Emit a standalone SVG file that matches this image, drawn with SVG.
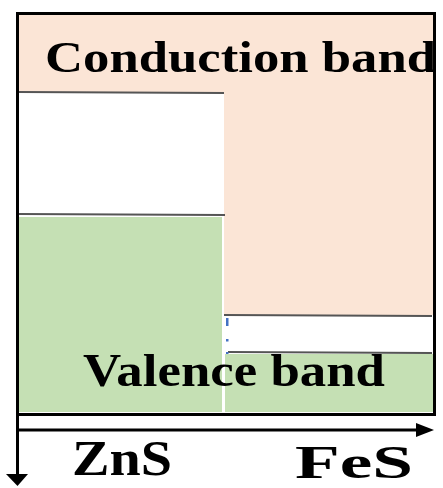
<svg xmlns="http://www.w3.org/2000/svg" width="443" height="488" viewBox="0 0 443 488">
<style>
.cb{fill:#fbe5d6}
.vb{fill:#c5e0b4}
.sep{stroke:#555;stroke-width:2;fill:none}
.lbl{font-family:"Liberation Serif","Times New Roman",serif;font-weight:bold;fill:#000}
.ax{stroke:#000;stroke-width:3;fill:none}
.mk{fill:#4472c4}
</style>
<rect x="0" y="0" width="443" height="488" fill="#fff"/>
<g id="conduction-band">
<rect class="cb" x="19" y="15" width="414" height="77"/>
<rect class="cb" x="224" y="15" width="209" height="300"/>
<text class="lbl" x="45" y="72" font-size="45" textLength="391" lengthAdjust="spacingAndGlyphs">Conduction band</text>
</g>
<g id="valence-band">
<rect class="vb" x="19" y="217" width="203" height="195"/>
<rect class="vb" x="225" y="354" width="208" height="58"/>
<text class="lbl" x="83" y="386" font-size="47" textLength="302" lengthAdjust="spacingAndGlyphs">Valence band</text>
</g>
<g id="separators">
<line class="sep" x1="19" y1="92" x2="224" y2="93"/>
<line class="sep" x1="19" y1="214" x2="225" y2="215"/>
<line class="sep" x1="224" y1="315" x2="432" y2="316"/>
<line class="sep" x1="228" y1="352" x2="432" y2="353"/>
<rect class="mk" x="226" y="318" width="2.5" height="8"/>
<rect class="mk" x="226" y="339" width="2.5" height="2.5"/>
<rect class="mk" x="226" y="352" width="2.5" height="2"/>
</g>
<g id="frame">
<rect x="17.5" y="13.5" width="417" height="401" fill="none" stroke="#000" stroke-width="3"/>
</g>
<g id="connectors">
<line class="ax" x1="17.5" y1="13" x2="17.5" y2="476"/>
<polygon points="6,474 28,474 17.5,486" fill="#000"/>
<line class="ax" x1="17" y1="430" x2="418" y2="430"/>
<polygon points="416,423 434,430 416,437" fill="#000"/>
</g>
<g id="axis-labels">
<text class="lbl" x="72" y="475" font-size="50" textLength="100" lengthAdjust="spacingAndGlyphs">ZnS</text>
<text class="lbl" x="295" y="478" font-size="46" textLength="118" lengthAdjust="spacingAndGlyphs">FeS</text>
</g>
</svg>
